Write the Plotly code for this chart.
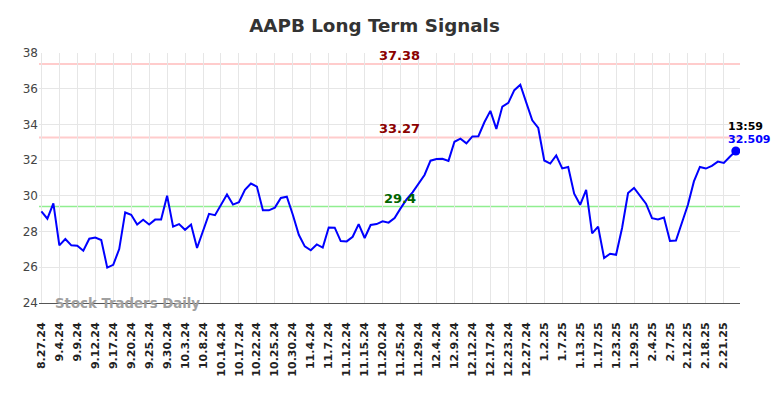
import plotly.graph_objects as go

title_text = "AAPB Long Term Signals"

prices = [
    29.13, 28.72, 29.58, 27.23, 27.58, 27.23, 27.21, 26.93, 27.60, 27.67,
    27.53, 25.98, 26.14, 27.02, 29.07, 28.94, 28.40, 28.66, 28.40, 28.67,
    28.68, 30.01, 28.28, 28.42, 28.10, 28.39, 27.08, 28.00, 28.99, 28.92,
    29.52, 30.08, 29.51, 29.64, 30.34, 30.69, 30.52, 29.19, 29.19, 29.34,
    29.88, 29.95, 28.94, 27.82, 27.17, 26.95, 27.28, 27.10, 28.23, 28.22,
    27.47, 27.45, 27.71, 28.42, 27.64, 28.37, 28.42, 28.57, 28.50, 28.76,
    29.30, 29.80, 30.20, 30.65, 31.17, 31.97, 32.06, 32.08, 31.96, 33.03,
    33.20, 32.94, 33.33, 33.34, 34.12, 34.76, 33.75, 35.00, 35.21, 35.92,
    36.22, 35.22, 34.23, 33.80, 31.98, 31.81, 32.26, 31.54, 31.62, 30.12,
    29.50, 30.34, 27.90, 28.28, 26.52, 26.76, 26.70, 28.20, 30.16, 30.44,
    30.00, 29.56, 28.75, 28.68, 28.79, 27.47, 27.50, 28.46, 29.50, 30.81,
    31.62, 31.53, 31.68, 31.92, 31.84, 32.19, 32.509,
]

tick_labels = [
    "8.27.24", "9.4.24", "9.9.24", "9.12.24", "9.17.24", "9.20.24", "9.25.24",
    "9.30.24", "10.3.24", "10.8.24", "10.14.24", "10.17.24", "10.22.24",
    "10.25.24", "10.30.24", "11.4.24", "11.7.24", "11.12.24", "11.15.24",
    "11.20.24", "11.25.24", "11.29.24", "12.4.24", "12.9.24", "12.12.24",
    "12.17.24", "12.23.24", "12.27.24", "1.2.25", "1.7.25", "1.13.25",
    "1.17.25", "1.23.25", "1.29.25", "2.4.25", "2.7.25", "2.12.25",
    "2.18.25", "2.21.25",
]
tick_every = 3

upper_levels = [37.38, 33.27]
lower_level = 29.4
last_time = "13:59"
last_value = 32.509
watermark = "Stock Traders Daily"

x_idx = list(range(len(prices)))
tick_vals = [i * tick_every for i in range(len(tick_labels))]

fig = go.Figure()
fig.add_trace(go.Scatter(
    x=x_idx, y=prices, mode="lines",
    line=dict(color="#0000ff", width=2),
    hoverinfo="skip", showlegend=False,
))
fig.add_trace(go.Scatter(
    x=[x_idx[-1]], y=[prices[-1]], mode="markers",
    marker=dict(color="#0000ff", size=9),
    hoverinfo="skip", showlegend=False,
))

for lv in upper_levels:
    fig.add_hline(y=lv, line=dict(color="#ffcccc", width=2), layer="below")
fig.add_hline(y=lower_level, line=dict(color="#90ee90", width=1.5), layer="below")

mid_x = x_idx[len(x_idx) // 2] + 1
for lv in upper_levels:
    fig.add_annotation(x=mid_x, y=lv, text=f"<b>{lv:.2f}</b>", showarrow=False,
                       yanchor="bottom", yshift=-1, xshift=5,
                       font=dict(family="DejaVu Sans", size=13, color="#8b0000"))
fig.add_annotation(x=mid_x, y=lower_level, text=f"<b>{lower_level}</b>", showarrow=False,
                   yanchor="bottom", yshift=-1, xshift=5,
                   font=dict(family="DejaVu Sans", size=13, color="#006400"))

fig.add_annotation(x=x_idx[-1], y=prices[-1], text=f"<b>{last_time}</b>", showarrow=False,
                   xanchor="center", yanchor="bottom", xshift=10, yshift=16,
                   font=dict(family="DejaVu Sans", size=11, color="#000000"))
fig.add_annotation(x=x_idx[-1], y=prices[-1], text=f"<b>{last_value}</b>", showarrow=False,
                   xanchor="center", yanchor="bottom", xshift=13, yshift=3,
                   font=dict(family="DejaVu Sans", size=11, color="#0000ff"))

fig.add_annotation(xref="paper", yref="paper", x=0.02, y=0.0, text=f"<b>{watermark}</b>",
                   showarrow=False, xanchor="left", yanchor="middle",
                   font=dict(family="DejaVu Sans", size=13.3, color="#a0a0a0"))

fig.update_layout(
    width=776, height=390,
    margin=dict(l=31, r=44, t=45, b=95),
    paper_bgcolor="white", plot_bgcolor="white",
    title=dict(text=f"<b>{title_text}</b>", x=0.4723, xanchor="center", y=0.954, yanchor="middle",
               font=dict(family="DejaVu Sans", size=18.3, color="#333333")),
    xaxis=dict(
        range=[-0.4, len(prices) - 1 + 0.7],
        tickmode="array", tickvals=tick_vals, ticktext=tick_labels,
        tickangle=-90, showgrid=True, gridcolor="#e6e6e6", gridwidth=1,
        showline=True, linecolor="#555555", linewidth=1,
        ticks="outside", ticklen=14, tickcolor="rgba(0,0,0,0)", zeroline=False,
        tickfont=dict(family="DejaVu Sans", size=11, color="#222222", weight="bold"),
    ),
    yaxis=dict(
        range=[24, 38], tickmode="array", tickvals=list(range(24, 39, 2)),
        showgrid=True, gridcolor="#e6e6e6", gridwidth=1,
        zeroline=False, showline=False, ticks="",
        tickfont=dict(family="DejaVu Sans", size=12, color="#444444"),
    ),
)

fig.write_html("out.html")
